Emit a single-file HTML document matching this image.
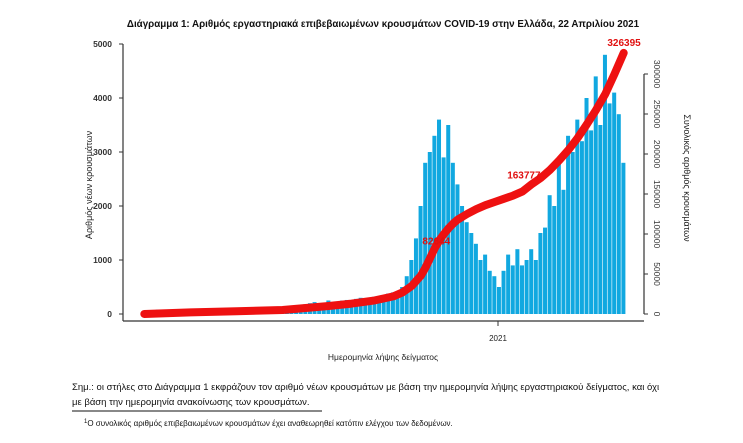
<!DOCTYPE html>
<html><head><meta charset="utf-8">
<style>
body{margin:0;background:#fff;width:743px;height:438px;overflow:hidden;font-family:"Liberation Sans","DejaVu Sans",sans-serif;}
svg text{font-family:"Liberation Sans","DejaVu Sans",sans-serif;}
</style></head>
<body>
<svg id="chart" width="743" height="438" viewBox="0 0 743 438" xmlns="http://www.w3.org/2000/svg">
<text x="383" y="27" text-anchor="middle" font-size="9.8" font-weight="bold" fill="#111">Διάγραμμα 1: Αριθμός εργαστηριακά επιβεβαιωμένων κρουσμάτων COVID-19 στην Ελλάδα, 22 Απριλίου 2021</text>
<g id="bars"></g>
<g id="line"></g>
<g id="axes"></g>
<text transform="translate(92,185) rotate(-90)" text-anchor="middle" font-size="9" fill="#222">Αριθμός νέων κρουσμάτων</text>
<text transform="translate(684,178) rotate(90)" text-anchor="middle" font-size="9" fill="#222">Συνολικός αριθμός κρουσμάτων</text>
<text x="383" y="360" text-anchor="middle" font-size="8.5" fill="#222">Ημερομηνία λήψης δείγματος</text>
<text x="72" y="390" font-size="9.5" fill="#111">Σημ.: οι στήλες στο Διάγραμμα 1 εκφράζουν τον αριθμό νέων κρουσμάτων με βάση την ημερομηνία λήψης εργαστηριακού δείγματος, και όχι</text>
<text x="72" y="405" font-size="9.5" fill="#111">με βάση την ημερομηνία ανακοίνωσης των κρουσμάτων.</text>
<line x1="72" y1="411" x2="322" y2="411" stroke="#111" stroke-width="1"/>
<text x="84" y="426" font-size="8" fill="#111"><tspan font-size="6" dy="-3">1</tspan><tspan dy="3">Ο συνολικός αριθμός επιβεβαιωμένων κρουσμάτων έχει αναθεωρηθεί κατόπιν ελέγχου των δεδομένων.</tspan></text>
</svg>
<script>
const dailyCases=[5,20,50,80,70,60,50,40,30,25,20,
15,10,10,8,5,5,5,5,5,10,15,20,15,10,10,15,20,25,30,30,
40,80,120,150,180,200,220,180,200,250,
200,220,250,260,250,280,300,280,300,320,330,350,380,400,420,
500,700,1000,1400,2000,2800,3000,
3300,3600,2900,3500,2800,2400,
2000,1700,1500,1300,1000,1100,800,
700,500,800,1100,900,1200,900,
1000,1200,1000,1500,1600,2200,2000,
2800,2300,3300,3000,3600,3200,4000,3400,
4400,3500,4800,3900,4100,3700,2800];
const cumBins=[0,10,20,30,40,45,50,54,56,58,60,61,62,63,64,65,66,67,68,70,72,74,76,78,80,82,84,86,88,90,92,94,96,98,100,102,104];
const cumValues=[0,2000,3500,5000,10000,13000,17000,22000,27000,35000,48000,58000,70000,82000,92000,100000,107000,113000,118000,125000,131000,136000,140000,144000,148000,153000,162000,170000,180000,192000,205000,220000,237000,255000,275000,300000,326395];
const leftTicks=[0,1000,2000,3000,4000,5000];
const rightTicks=[0,50000,100000,150000,200000,250000,300000];
const pointLabels=[{bin:63,text:"82644",dx:-10,dy:-4},{bin:84,text:"163777",dx:-22,dy:-6},{bin:104,text:"326395",dx:-14,dy:-7}];

const NS="http://www.w3.org/2000/svg";
const x0=142,x1=626,yBase=314;
const bw=(x1-x0)/dailyCases.length;
const xOf=i=>x0+i*bw;
const yL=v=>yBase-v/5000*270;
const yR=v=>yBase-v/300000*240;
function mk(tag,attrs,parent){const e=document.createElementNS(NS,tag);for(const k in attrs)e.setAttribute(k,attrs[k]);parent.appendChild(e);return e;}
const bars=document.getElementById('bars');
dailyCases.forEach((v,i)=>{
  const r=mk('rect',{x:xOf(i),y:yL(v),width:bw-0.6,height:yBase-yL(v),fill:'#11a8e0'},bars);
  
  
});
const lineG=document.getElementById('line');
let d=cumBins.map((b,i)=>(i?'L':'M')+(xOf(b)+bw/2).toFixed(1)+' '+yR(cumValues[i]).toFixed(1)).join(' ');
const p=mk('path',{d:d,fill:'none',stroke:'#ee1111','stroke-width':8,'stroke-linecap':'round','stroke-linejoin':'round'},lineG);


pointLabels.forEach(l=>{
  const idx=cumBins.indexOf(l.bin);
  const t=mk('text',{x:xOf(l.bin)+l.dx,y:yR(cumValues[idx])+l.dy,'font-size':10,'font-weight':'bold',fill:'#e01010'},lineG);
  t.textContent=l.text;
  
  
});
const ax=document.getElementById('axes');
mk('line',{x1:123,y1:44,x2:123,y2:321,stroke:'#333','stroke-width':1.2},ax);
mk('line',{x1:123,y1:321,x2:644,y2:321,stroke:'#333','stroke-width':1.2},ax);
mk('line',{x1:498,y1:321,x2:498,y2:326,stroke:'#333','stroke-width':1},ax);
const yr=mk('text',{x:498,y:341,'text-anchor':'middle','font-size':8,fill:'#222'},ax);yr.textContent='2021';


leftTicks.forEach(v=>{
  mk('line',{x1:119,y1:yL(v),x2:123,y2:yL(v),stroke:'#333'},ax);
  const t=mk('text',{x:112,y:yL(v)+3,'text-anchor':'end','font-size':8.5,'font-weight':'bold',fill:'#333'},ax);
  t.textContent=v;
  
  
});
mk('line',{x1:644,y1:yR(300000),x2:644,y2:yBase,stroke:'#333','stroke-width':1.2},ax);
rightTicks.forEach(v=>{
  mk('line',{x1:644,y1:yR(v),x2:648,y2:yR(v),stroke:'#333'},ax);
  const t=mk('text',{transform:`translate(654,${yR(v)}) rotate(90)`,'text-anchor':'middle','font-size':8.5,fill:'#333'},ax);
  t.textContent=v;
  
  
});
</script>
</body></html>
